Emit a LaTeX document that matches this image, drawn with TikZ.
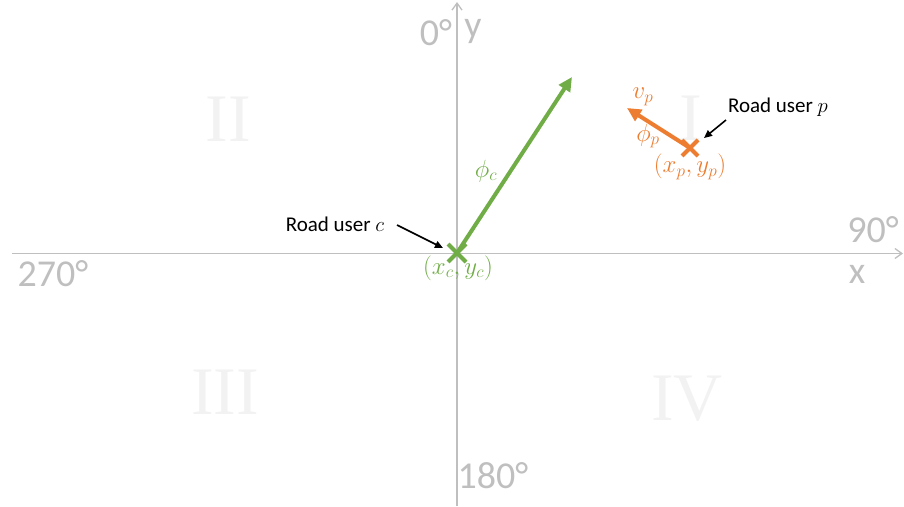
\documentclass[tikz,border=0pt]{standalone}
\usepackage{fontspec}
\setmainfont{Carlito}
\newfontfamily\romanfont{Liberation Serif}
\usetikzlibrary{arrows.meta}
\definecolor{axisgray}{RGB}{191,191,191}
\definecolor{quadgray}{RGB}{242,242,242}
\definecolor{cgreen}{RGB}{112,173,71}
\definecolor{porange}{RGB}{237,125,49}
\tikzset{
  axis/.style={draw=axisgray, line width=1.5pt, -{Straight Barb[length=7pt,width=10pt,line width=1.3pt]}},
  axislabel/.style={text=axisgray, font=\fontsize{38}{38}\selectfont, inner sep=0pt},
  quad/.style={text=quadgray, font=\romanfont\fontsize{68}{68}\selectfont, inner sep=0pt},
  greenarrow/.style={draw=cgreen, line width=4pt, -{Triangle[length=14pt,width=13pt]}},
  orangearrow/.style={draw=porange, line width=4pt, -{Triangle[length=14pt,width=13pt]}},
  crossline/.style={line width=4pt},
  blackarrow/.style={draw=black, line width=1.6pt, -{Triangle[length=8pt,width=7pt]}},
  mathlabel/.style={inner sep=0pt, font=\fontsize{24}{24}\selectfont},
  userlabel/.style={inner sep=0pt, font=\fontsize{21}{21}\selectfont},
}
\begin{document}
\begin{tikzpicture}[x=1pt,y=-1pt]
\useasboundingbox (0,0) rectangle (904,506);
% quadrant numerals
\node[quad] (qII) at (228,119) {II};
\node[quad] (qI) at (691,118) {I};
\node[quad] (qIII) at (225,392) {III};
\node[quad] (qIV) at (687,399) {IV};
% axes
\coordinate (xl) at (12,253.5);
\coordinate (xr) at (903,253.5);
\coordinate (yb) at (457,506);
\coordinate (yt) at (457,2);
\draw[axis] (xl) -- (xr);
\draw[axis] (yb) -- (yt);
\node[axislabel] (l0) at (436,33) {0°};
\node[axislabel] (ly) at (473,31) {y};
\node[axislabel] (l90) at (873,230) {90°};
\node[axislabel] (lx) at (857,274) {x};
\node[axislabel] (l270) at (53,274) {270°};
\node[axislabel] (l180) at (493,476) {180°};
% road user c
\coordinate (c) at (457,253);
\coordinate (ctip) at (572,77);
\draw[greenarrow] (c) -- (ctip);
\draw[cgreen, crossline] (448,244) -- (466,262) (448,262) -- (466,244);
\node[mathlabel, text=cgreen] (phic) at (486,171) {$\phi_c$};
\node[mathlabel, text=cgreen] (xyc) at (458,268) {$(x_c,y_c)$};
\node[userlabel] (uc) at (335,224) {Road user $c$};
\coordinate (ucs) at (397,225);
\draw[blackarrow] (ucs) -- (443,248);
% road user p
\coordinate (p) at (690,148);
\coordinate (ptip) at (627,108);
\draw[orangearrow] (p) -- (ptip);
\draw[porange, crossline] (682,140) -- (698,156) (682,156) -- (698,140);
\node[mathlabel, text=porange] (vp) at (643,97) {$v_p$};
\node[mathlabel, text=porange] (phip) at (648,136) {$\phi_p$};
\node[mathlabel, text=porange] (xyp) at (690,167) {$(x_p,y_p)$};
\node[userlabel] (up) at (778,107) {Road user $p$};
\coordinate (ups) at (726,120);
\draw[blackarrow] (ups) -- (704,138);
\end{tikzpicture}
\end{document}
